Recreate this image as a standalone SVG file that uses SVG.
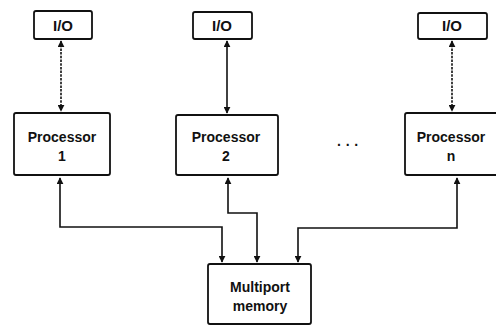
<svg xmlns="http://www.w3.org/2000/svg" width="496" height="326" viewBox="0 0 496 326">
<defs>
<marker id="ah" viewBox="0 0 10 10" refX="9" refY="5" markerWidth="7" markerHeight="7" orient="auto-start-reverse" markerUnits="userSpaceOnUse">
<path d="M0,0 L10,5 L0,10 z" fill="#111"/>
</marker>
<style>
.box{fill:#fff;stroke:#111;stroke-width:1.8}
.t{font-family:"Liberation Sans",Arial,sans-serif;font-weight:bold;font-size:14px;fill:#111;text-anchor:middle}
.io{font-size:15px}
.c{fill:none;stroke:#111;stroke-width:1.6}
.d{stroke-dasharray:2.5 1.2}
</style>
</defs>
<rect width="496" height="326" fill="#fff"/>
<g id="io1"><rect class="box" x="34" y="11" width="58" height="28" rx="2"/><text class="t io" x="63" y="31">I/O</text></g>
<g id="io2"><rect class="box" x="193" y="12" width="59" height="27" rx="2"/><text class="t io" x="222" y="31">I/O</text></g>
<g id="ion"><rect class="box" x="418" y="13" width="69" height="26" rx="2"/><text class="t io" x="452" y="31">I/O</text></g>
<g id="p1"><rect class="box" x="14" y="113" width="96" height="62" rx="2"/><text class="t" x="62" y="142">Processor</text><text class="t" x="62" y="161">1</text></g>
<g id="p2"><rect class="box" x="176" y="115" width="102" height="60" rx="2"/><text class="t" x="226" y="142">Processor</text><text class="t" x="226" y="161">2</text></g>
<g id="pn"><rect class="box" x="405" y="113" width="95" height="62" rx="2"/><text class="t" x="451" y="142">Processor</text><text class="t" x="451" y="161">n</text></g>
<g id="dots"><text class="t" x="348" y="150">· · ·</text></g>
<g id="mem"><rect class="box" x="208" y="264" width="103" height="60" rx="2"/><text class="t" x="260" y="292">Multiport</text><text class="t" x="260" y="311">memory</text></g>
<g id="connectors">
<line class="c d" x1="61" y1="41" x2="61" y2="111" marker-start="url(#ah)" marker-end="url(#ah)"/>
<line class="c" x1="227" y1="41" x2="227" y2="113" marker-start="url(#ah)" marker-end="url(#ah)"/>
<line class="c d" x1="452" y1="41" x2="452" y2="111" marker-start="url(#ah)" marker-end="url(#ah)"/>
<polyline class="c" points="60,178 60,227 222,227 222,262" marker-start="url(#ah)" marker-end="url(#ah)"/>
<polyline class="c" points="228,178 228,213 257,213 257,262" marker-start="url(#ah)" marker-end="url(#ah)"/>
<polyline class="c" points="457,178 457,228 298,228 298,262" marker-start="url(#ah)" marker-end="url(#ah)"/>
</g>
</svg>
